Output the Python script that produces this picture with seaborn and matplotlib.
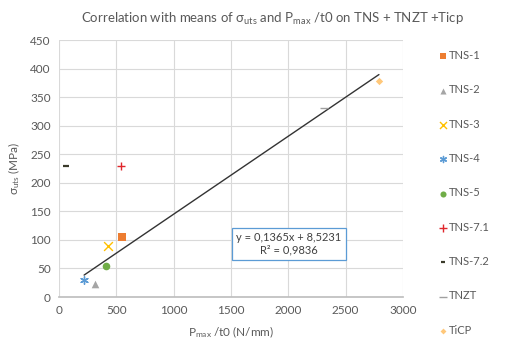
import matplotlib
matplotlib.use("Agg")
import matplotlib.pyplot as plt
import seaborn as sns
import numpy as np

series = ["TNS-1", "TNS-2", "TNS-3", "TNS-4", "TNS-5", "TNS-7.1", "TNS-7.2", "TNZT", "TiCP"]
pmax_t0 = [551, 315, 429, 219, 411, 542, 61, 2310, 2791]
sigma_uts = [105, 22, 90, 30, 55, 229, 229, 331, 379]
colors = ["#ED7D31", "#A5A5A5", "#FFC000", "#5B9BD5", "#70AD47", "#E0262B", "#3A3A2A", "#A0A0A0", "#FFC87A"]
markers = ["s", "^", "x", (6, 2, 0), "o", "+", "_", "_", "D"]
sizes = [30, 30, 40, 30, 30, 40, 20, 40, 14]

slope = 0.1365
intercept = 8.5231
r2 = 0.9836
fit_x = [219, 2791]

sns.set_theme(style="white")
plt.rcParams["font.family"] = ["Lato", "DejaVu Sans"]
plt.rcParams["mathtext.fontset"] = "custom"
plt.rcParams["mathtext.rm"] = "Lato"
plt.rcParams["mathtext.it"] = "Lato"

TXT = "#595959"
fig = plt.figure(figsize=(5.10, 3.44), dpi=100)
ax = fig.add_axes([0.1157, 0.1366, 0.6743, 0.7471])

for name, xv, yv, c, m, s in zip(series, pmax_t0, sigma_uts, colors, markers, sizes):
    lw = 1.0 if m in ("x", "+", "_") or isinstance(m, tuple) else 0
    if m == "_" and name == "TNS-7.2":
        lw = 1.6
    sns.scatterplot(x=[xv], y=[yv], marker=m, color=c, s=s, linewidth=lw,
                    edgecolor=c if lw == 0 else None, ax=ax, label=name, zorder=3)

fx = np.array(fit_x, dtype=float)
sns.lineplot(x=fx, y=slope * fx + intercept, color="#333333", linewidth=1.0, ax=ax, zorder=2)

ax.set_xlim(0, 3000)
ax.set_ylim(0, 450)
ax.set_xticks(range(0, 3001, 500))
ax.set_yticks(range(0, 451, 50))
ax.grid(True, color="#D9D9D9", linewidth=0.8)
ax.set_axisbelow(True)
for sp in ["top", "right", "left"]:
    ax.spines[sp].set_visible(False)
ax.spines["bottom"].set_color("#BFBFBF")
ax.tick_params(axis="both", labelsize=8.5, colors=TXT, length=0, pad=6)

ax.set_xlabel(r"P$_{\mathrm{max}}$ /t0 (N/mm)", fontsize=8.5, color=TXT, labelpad=6)
ax.set_ylabel(r"σ$_{\mathrm{uts}}$ (MPa)", fontsize=8.5, color=TXT, labelpad=6)

fig.text(0.535, 0.945, r"Correlation with means of σ$_{\mathrm{uts}}$ and P$_{\mathrm{max}}$ /t0 on TNS + TNZT +Ticp",
         ha="center", va="center", fontsize=9.5, color=TXT)

ax.text(2003, 93, f"y = {slope:.4f}x + {intercept:.4f}\nR² = {r2:.4f}".replace(".", ","),
        ha="center", va="center", fontsize=8, color="#404040", linespacing=1.2,
        bbox=dict(boxstyle="square,pad=0.4", facecolor="white", edgecolor="#5B9BD5", linewidth=0.9),
        zorder=4)

leg = ax.legend(loc="upper left", bbox_to_anchor=(1.085, 0.978), frameon=False, fontsize=8,
                labelspacing=2.1, handletextpad=0.0, handlelength=1.1, borderaxespad=0,
                markerscale=0.8)
for t in leg.get_texts():
    t.set_color(TXT)

fig.savefig("out.png", dpi=100)
